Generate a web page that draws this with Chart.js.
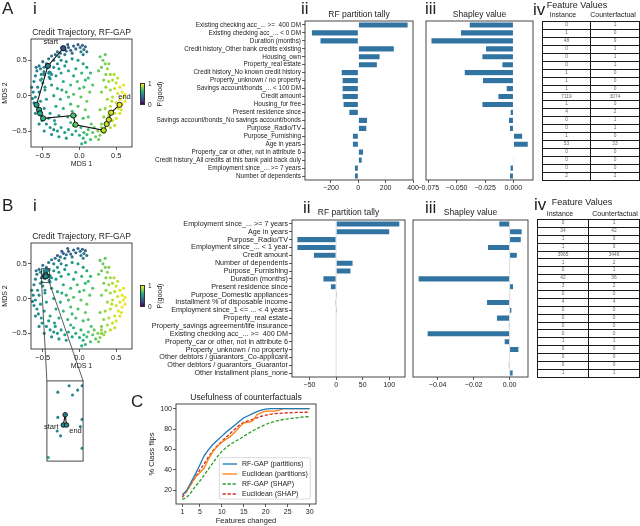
<!DOCTYPE html>
<html>
<head>
<meta charset="utf-8">
<script src="https://cdn.jsdelivr.net/npm/chart.js@4.4.1/dist/chart.umd.min.js"></script>
<style>
  html, body { margin: 0; padding: 0; background: #fff; }
  body { position: relative; width: 640px; height: 526px; overflow: hidden;
         font-family: 'Liberation Sans', Arial, Helvetica, sans-serif; color: #222; }
  canvas { position: absolute; }
  .t { position: absolute; white-space: nowrap; line-height: 1; }
  .panel { font-size: 17px; }
  .hdr { font-size: 9px; transform: translateX(-50%); }
  .sub { font-size: 7px; transform: translateX(-50%); }
  .cb { font-size: 6.5px; }
  .rot { font-size: 7px; transform: translate(-50%, -50%) rotate(-90deg); }
  .cbar { position: absolute; width: 5px; height: 22px; box-sizing: border-box; border: 0.6px solid #333;
          background: linear-gradient(to top, #440154, #414487, #2a788e, #22a884, #7ad151, #fde725); }
  table.fv { position: absolute; border-collapse: collapse; table-layout: fixed; }
  table.fv td { border: 1px solid #1a1a1a; padding: 0; text-align: center; font-size: 4.8px;
                line-height: 4.8px; color: #666; overflow: hidden; }
</style>
</head>
<body>
<script>
// ---------- data ----------
const featA = [
  'Existing checking acc_... >=  400 DM', 'Existing checking acc_... < 0 DM', 'Duration (months)',
  'Credit history_Other bank credits existing', 'Housing_own', 'Property_real estate',
  'Credit history_No known credit history', 'Property_unknown / no property', 'Savings account/bonds_... < 100 DM',
  'Credit amount', 'Housing_for free', 'Present residence since',
  'Savings account/bonds_No savings account/bonds', 'Purpose_Radio/TV', 'Purpose_Furnishing',
  'Age in years', 'Property_car or other, not in attribute 6', 'Credit history_All credits at this bank paid back duly',
  'Employment since_... >= 7 years', 'Number of dependents'
];
const tallyA = [365, -344, -281, 264, 160, 140, -126, -119, -119, -119, -112, -70, 68, 63, -44, -44, 39, 29, -29, -29];
const shapA = [-0.039, -0.0467, -0.0727, -0.0246, -0.0278, -0.0102, -0.0434, -0.0273, -0.0064, -0.0137,
               -0.0278, -0.0029, -0.0044, -0.0035, 0.0083, 0.0132, 0.0003, 0.0009, -0.003, -0.0035];
const instA = ['0', '1', '48', '0', '0', '0', '1', '1', '1', '7119', '1', '4', '0', '0', '1', '53', '0', '0', '0', '2'];
const cfA = ['1', '0', '9', '1', '1', '1', '0', '0', '0', '3074', '0', '2', '1', '1', '0', '33', '0', '0', '0', '2'];

const featB = [
  'Employment since_... >= 7 years', 'Age in years', 'Purpose_Radio/TV', 'Employment since_... < 1 year',
  'Credit amount', 'Number of dependents', 'Purpose_Furnishing', 'Duration (months)',
  'Present residence since', 'Purpose_Domestic appliances', 'Installment % of disposable income',
  'Employment since_1 <= ... < 4 years', 'Property_real estate', 'Property_savings agreement/life insurance',
  'Existing checking acc_... >=  400 DM', 'Property_car or other, not in attribute 6', 'Property_unknown / no property',
  'Other debtors / guarantors_Co-applicant', 'Other debtors / guarantors_Guarantor', 'Other installment plans_none'
];
const tallyB = [120, 101, -74, -74, -43, 32, 28, -25, -11, 2.5, -2, 2.5, 0, 0, 0, 0, 0, 0, 0, 0];
const shapB = [-0.0061, 0.007, 0.0065, -0.0124, 0.0043, 0, -0.0004, -0.0509, 0.0022, 0,
               -0.0129, 0.0013, -0.0074, -0.0007, -0.0459, -0.0031, 0.0052, 0, -0.0007, 0.002];
const instB = ['0', '34', '1', '1', '3965', '1', '0', '42', '3', '0', '4', '0', '0', '0', '0', '1', '0', '0', '0', '1'];
const cfB = ['1', '42', '0', '0', '3446', '2', '1', '36', '2', '0', '4', '0', '0', '0', '0', '1', '0', '0', '0', '1'];

const tickA2 = [-200, 0, 200, 400];
const tickA3 = [-0.075, -0.05, -0.025, 0];
const tickB2 = [-50, 0, 50, 100];
const tickB3 = [-0.04, -0.02, 0];
const tickMds = [-0.5, 0, 0.5];

// MDS embedding, [x, y, P(good)]
const mdsCloud = [
  [-0.42,0.52,0.40],[-0.38,0.56,0.38],[-0.33,0.58,0.35],[-0.30,0.62,0.32],[-0.26,0.60,0.36],
  [-0.22,0.65,0.30],[-0.18,0.63,0.34],[-0.15,0.68,0.30],[-0.12,0.64,0.33],[-0.08,0.70,0.28],
  [-0.05,0.66,0.32],[-0.02,0.72,0.30],[0.01,0.68,0.35],[0.04,0.71,0.32],[0.06,0.65,0.38],
  [0.08,0.69,0.34],[0.10,0.62,0.40],[-0.28,0.55,0.40],[-0.20,0.58,0.40],[-0.10,0.60,0.38],
  [0.02,0.62,0.40],[-0.35,0.50,0.43],[-0.16,0.72,0.30],[0.05,0.58,0.42],[-0.24,0.68,0.29],
  [-0.58,0.35,0.42],[-0.55,0.42,0.40],[-0.62,0.20,0.45],[-0.60,0.28,0.43],[-0.52,0.30,0.46],
  [-0.57,0.12,0.48],[-0.63,0.05,0.46],[-0.60,-0.02,0.50],[-0.55,0.05,0.48],[-0.50,0.18,0.50],
  [-0.62,-0.10,0.47],[-0.58,-0.15,0.50],[-0.53,-0.08,0.52],[-0.65,0.12,0.44],[-0.53,0.38,0.44],
  [-0.45,0.45,0.40],[-0.50,0.48,0.38],[-0.56,-0.22,0.48],[-0.60,-0.25,0.46],[-0.52,-0.28,0.52],
  [-0.47,0.08,0.52],[-0.45,-0.05,0.54],[-0.48,-0.18,0.53],[-0.40,0.24,0.50],[-0.53,0.22,0.47],
  [-0.64,-0.04,0.43],[-0.40,0.33,0.48],[-0.59,0.40,0.40],[-0.51,-0.35,0.50],[-0.47,0.12,0.51],
  [-0.35,0.40,0.52],[-0.30,0.45,0.50],[-0.25,0.50,0.48],[-0.18,0.48,0.52],[-0.10,0.52,0.50],
  [-0.02,0.50,0.55],[0.05,0.45,0.58],[0.10,0.40,0.60],[-0.32,0.28,0.55],[-0.25,0.32,0.58],
  [-0.15,0.35,0.60],[-0.05,0.38,0.62],[0.03,0.32,0.65],[0.12,0.25,0.68],[-0.38,0.15,0.55],
  [-0.30,0.10,0.60],[-0.22,0.20,0.62],[-0.12,0.15,0.68],[-0.03,0.20,0.70],[0.06,0.12,0.72],
  [0.14,0.05,0.75],[-0.35,0.00,0.58],[-0.26,-0.05,0.62],[-0.18,0.05,0.66],[-0.08,0.02,0.72],
  [0.02,-0.02,0.75],[0.10,-0.08,0.78],[-0.32,-0.15,0.60],[-0.22,-0.18,0.65],[-0.12,-0.12,0.70],
  [-0.02,-0.15,0.72],[0.08,-0.20,0.76],[-0.28,-0.28,0.60],[-0.16,-0.30,0.65],[-0.05,-0.28,0.68],
  [0.05,-0.32,0.70],[-0.40,-0.25,0.56],[-0.20,0.42,0.54],[-0.08,0.28,0.60],[0.00,0.10,0.70],
  [-0.15,-0.02,0.68],[-0.28,0.38,0.53],[-0.38,0.30,0.52],[0.15,0.32,0.65],[0.18,0.15,0.72],
  [-0.10,-0.22,0.68],[-0.34,-0.35,0.57],[0.12,-0.30,0.74],[-0.24,0.08,0.60],[0.08,0.22,0.66],
  [-0.45,-0.40,0.50],[-0.40,-0.45,0.52],[-0.35,-0.48,0.50],[-0.30,-0.50,0.54],[-0.25,-0.45,0.56],
  [-0.20,-0.52,0.55],[-0.15,-0.48,0.60],[-0.10,-0.55,0.58],[-0.05,-0.50,0.62],[0.00,-0.56,0.60],
  [-0.42,-0.32,0.54],[-0.38,-0.55,0.48],[-0.28,-0.58,0.50],[-0.18,-0.60,0.54],[-0.08,-0.42,0.64],
  [0.02,-0.45,0.66],[-0.55,-0.40,0.46],[-0.48,-0.50,0.48],[-0.33,-0.40,0.56],[-0.12,-0.38,0.65],
  [0.05,-0.60,0.65],[0.10,-0.55,0.70],[0.15,-0.62,0.70],[0.18,-0.52,0.75],[0.22,-0.58,0.76],
  [0.25,-0.50,0.80],[0.28,-0.56,0.80],[0.30,-0.45,0.84],[0.08,-0.66,0.65],[0.12,-0.48,0.72],
  [0.20,-0.45,0.76],[0.03,-0.68,0.62],[0.16,-0.40,0.74],[0.26,-0.62,0.78],[0.33,-0.52,0.85],
  [0.06,-0.52,0.68],
  [0.28,0.55,0.75],[0.32,0.50,0.77],[0.35,0.45,0.80],[0.30,0.40,0.77],[0.38,0.38,0.83],
  [0.42,0.30,0.85],[0.36,0.30,0.81],[0.45,0.22,0.87],[0.40,0.20,0.85],[0.50,0.18,0.91],
  [0.48,0.10,0.90],[0.55,0.12,0.95],[0.42,0.08,0.85],[0.52,0.03,0.93],[0.58,0.05,0.97],
  [0.45,-0.02,0.89],[0.55,-0.05,0.95],[0.60,-0.02,0.98],[0.38,-0.05,0.85],[0.50,-0.10,0.93],
  [0.58,-0.12,0.97],[0.42,-0.15,0.89],[0.35,-0.18,0.85],[0.53,-0.18,0.95],[0.48,-0.25,0.92],
  [0.40,-0.28,0.89],[0.55,-0.25,0.95],[0.33,-0.30,0.83],[0.45,-0.35,0.91],[0.38,-0.38,0.87],
  [0.50,-0.32,0.93],[0.30,-0.40,0.81],[0.42,-0.45,0.89],[0.35,-0.48,0.85],[0.60,0.15,0.96],
  [0.62,-0.08,0.98],[0.47,0.30,0.87],[0.40,0.45,0.81],[0.33,0.22,0.80],[0.30,0.05,0.81],
  [0.36,0.12,0.83],[0.57,-0.20,0.96],[0.52,0.25,0.90],[0.28,-0.20,0.79],[0.44,-0.08,0.90],
  [0.26,0.35,0.75],[0.35,0.58,0.75],[0.48,-0.42,0.90],[0.30,-0.50,0.81],[0.62,0.02,0.98],
  [-0.484,0.402,0.45],[-0.451,0.418,0.45],[-0.426,0.407,0.44],[-0.441,0.395,0.46],[-0.413,0.418,0.45],
  [-0.484,0.339,0.46],[-0.413,0.334,0.47],[-0.418,0.316,0.46],[-0.486,0.305,0.47],[-0.476,0.293,0.45],
  [-0.413,0.262,0.48],[-0.512,0.239,0.62]
];
const mdsX = [-0.66, 0.715];
const mdsY = [-0.725, 0.8];

const trajAx = [-0.22, -0.43, -0.585, -0.55, -0.536, -0.495, -0.085, -0.054, 0.33, 0.37, 0.40, 0.43, 0.545];
const trajAy = [0.67, 0.42, -0.13, -0.20, -0.25, -0.32, -0.28, -0.41, -0.49, -0.40, -0.34, -0.24, -0.13];
const trajAp = [0.25, 0.40, 0.55, 0.58, 0.60, 0.65, 0.72, 0.74, 0.90, 0.90, 0.92, 0.93, 0.97];
const trajBx = [-0.468, -0.4625, -0.4585];
const trajBy = [0.32, 0.3455, 0.32];
const trajBp = [0.45, 0.45, 0.47];
const zoomX = [-0.516, -0.41];
const zoomY = [0.23, 0.43];

const featuresChanged = [1,2,3,4,5,6,7,8,9,10,11,12,13,14,15,16,17,18,19,20,21,22,23,24,25,26,27,28,29,30];
const rfgapPart = [15,20,28,36,45,54,60,65,69,73,77,80.5,84,87.5,91,93,95,97,98.5,99.5,100,100,100,100,100,100,100,100,100,100];
const euclPart = [16,19,26,33,37,42,51,58,63,67,70,73,77,82,86,86.5,88,94,96,97.5,97.5,97.5,98.5,100,100,100,100,100,100,100];
const rfgapShap = [11,13,18,24,29,35,41,47,53,58,62,65,68,70,73,75.5,78,80.5,82.5,84.5,86,87.5,88.5,89.3,90,90.5,91,91.5,92,92];
const euclShap = [13,19,26,33,40,46,53,59,64,68,72,76,80,84,86.5,88,89.5,91,92.5,93.5,94.3,95,95.3,95.6,95.8,96,96.2,96.3,96.4,96.5];
const tickCx = [1, 5, 10, 15, 20, 25, 30];
const tickCy = [20, 40, 60, 80, 100];

// ---------- helpers ----------
Chart.defaults.font.family = "'Liberation Sans', Arial, Helvetica, sans-serif";
Chart.defaults.color = '#222';

const barBlue = '#3274a1';
const viridisStops = ['#440154','#482475','#414487','#355f8d','#2a788e','#21918c','#22a884','#44bf70','#7ad151','#bddf26','#fde725'];
const hexRgb = h => [1, 3, 5].map(i => parseInt(h.slice(i, i + 2), 16));
function viridis(t) {
  t = Math.max(0, Math.min(1, t)) * 10;
  const i = Math.min(9, Math.floor(t)), f = t - i;
  const a = hexRgb(viridisStops[i]), b = hexRgb(viridisStops[i + 1]);
  return 'rgb(' + a.map((v, k) => Math.round(v + (b[k] - v) * f)).join(',') + ')';
}
const fmt = d => v => (v < -1e-12 ? '\u2212' : '') + Math.abs(v).toFixed(d);
const fixTicks = arr => s => { s.ticks = arr.map(v => ({ value: v })); };
const tickGrid = { display: true, drawOnChartArea: false, drawTicks: true, tickLength: 3, color: '#333', lineWidth: 0.8 };

function addCanvas(id, l, t, w, h) {
  const c = document.createElement('canvas');
  c.id = id; c.width = w; c.height = h;
  c.style.left = l + 'px'; c.style.top = t + 'px';
  c.style.width = w + 'px'; c.style.height = h + 'px';
  document.body.appendChild(c);
  return c;
}

const framePlugin = {
  id: 'frame',
  beforeDatasetsDraw(chart, args, o) {
    if (!o.zero) return;
    const a = chart.chartArea, ctx = chart.ctx, x = chart.scales.x.getPixelForValue(0);
    ctx.save();
    ctx.strokeStyle = '#cfcfcf'; ctx.lineWidth = 0.7;
    ctx.beginPath(); ctx.moveTo(x, a.top); ctx.lineTo(x, a.bottom); ctx.stroke();
    ctx.restore();
  },
  afterDraw(chart, args, o) {
    const a = chart.chartArea, ctx = chart.ctx;
    ctx.save();
    ctx.strokeStyle = '#333'; ctx.lineWidth = 0.9;
    ctx.strokeRect(a.left, a.top, a.right - a.left, a.bottom - a.top);
    if (o.rect) {
      const sx = chart.scales.x, sy = chart.scales.y;
      const x0 = sx.getPixelForValue(o.rect[0]), x1 = sx.getPixelForValue(o.rect[1]);
      const y0 = sy.getPixelForValue(o.rect[3]), y1 = sy.getPixelForValue(o.rect[2]);
      ctx.lineWidth = 0.8;
      ctx.strokeRect(x0, y0, x1 - x0, y1 - y0);
    }
    if (o.tags) {
      const pts = chart.getDatasetMeta(0).data;
      ctx.fillStyle = '#222';
      ctx.font = "7.5px 'Liberation Sans', Arial, sans-serif";
      ctx.textAlign = 'center'; ctx.textBaseline = 'middle';
      o.tags.forEach(g => {
        const p = pts[g.i];
        ctx.fillText(g.text, p.x + g.dx, p.y + g.dy);
      });
    }
    ctx.restore();
  }
};

const legendPlugin = {
  id: 'innerLegend',
  afterDraw(chart) {
    const a = chart.chartArea, ctx = chart.ctx;
    const w = 91, h = 41.3, x = a.right - 5.7 - w, y = a.bottom - 5 - h;
    ctx.save();
    ctx.beginPath(); ctx.roundRect(x, y, w, h, 2);
    ctx.fillStyle = 'rgba(255,255,255,0.85)'; ctx.fill();
    ctx.strokeStyle = '#d0d0d0'; ctx.lineWidth = 0.8; ctx.stroke();
    ctx.font = "7px 'Liberation Sans', Arial, sans-serif";
    ctx.textBaseline = 'middle';
    chart.data.datasets.forEach((ds, i) => {
      const yy = y + 6.3 + i * 10;
      ctx.beginPath();
      ctx.setLineDash(ds.borderDash || []);
      ctx.strokeStyle = ds.borderColor; ctx.lineWidth = ds.borderWidth;
      ctx.moveTo(x + 3.3, yy); ctx.lineTo(x + 17.7, yy); ctx.stroke();
      ctx.setLineDash([]);
      ctx.fillStyle = '#222';
      ctx.fillText(ds.label, x + 22.7, yy);
    });
    ctx.restore();
  }
};

function makeBar(id, l, t, w, h, labels, values, range, ticks, digits, title, o) {
  const cv = addCanvas(id, l, t, w, h);
  return new Chart(cv, {
    type: 'bar',
    data: { labels: labels, datasets: [{ data: values, backgroundColor: barBlue, borderColor: 'rgba(255,255,255,0.85)',
            borderWidth: 0.6, barPercentage: 0.8, categoryPercentage: 1 }] },
    options: {
      indexAxis: 'y', responsive: false, animation: false, events: [],
      layout: { padding: { left: 0, top: 0, bottom: 0, right: 7 } },
      plugins: {
        legend: { display: false }, tooltip: { enabled: false },
        title: { display: true, fullSize: false, text: title, color: '#222', font: { size: 8.5, weight: 'normal' },
                 padding: { top: o.tTop, bottom: o.tBot } },
        frame: { zero: !!o.zero }
      },
      scales: {
        x: { type: 'linear', min: range[0], max: range[1], afterBuildTicks: fixTicks(ticks),
             afterFit: s => { s.height = 15; },
             ticks: { font: { size: 7 }, padding: 1, maxRotation: 0, callback: fmt(digits) },
             grid: tickGrid, border: { display: false } },
        y: { afterFit: s => { s.width = o.yWidth; },
             ticks: { display: o.showLabels, autoSkip: false, font: { size: o.labelSize || 6 }, padding: 1 },
             grid: Object.assign({}, tickGrid, { display: o.showLabels, offset: false }),
             border: { display: false } }
      }
    },
    plugins: [framePlugin]
  });
}

function makeScatter(id, l, t, w, h, tx, ty, tp, o) {
  const cv = addCanvas(id, l, t, w, h);
  const traj = tx.map((x, i) => ({ x: x, y: ty[i] }));
  const axisOn = o.axes;
  return new Chart(cv, {
    type: 'scatter',
    data: { datasets: [
      { data: traj, showLine: true, borderColor: '#111', borderWidth: 1.1, pointRadius: o.trajR,
        pointBackgroundColor: tp.map(viridis), pointBorderColor: '#111', pointBorderWidth: 0.9, clip: 4 },
      { data: mdsCloud.map(p => ({ x: p[0], y: p[1] })), pointRadius: 1.55, pointBorderWidth: 0,
        pointBackgroundColor: mdsCloud.map(p => viridis(p[2])), clip: o.clip }
    ] },
    options: {
      responsive: false, animation: false, events: [],
      layout: { padding: o.pad },
      plugins: {
        legend: { display: false }, tooltip: { enabled: false },
        title: { display: axisOn, fullSize: false, text: 'Credit Trajectory, RF-GAP', color: '#222',
                 font: { size: 8.5, weight: 'normal' }, padding: { top: o.tTop, bottom: o.tBot } },
        frame: { rect: o.rect, tags: o.tags }
      },
      scales: {
        x: { type: 'linear', display: axisOn, min: o.xr[0], max: o.xr[1], afterBuildTicks: fixTicks(tickMds),
             afterFit: s => { if (axisOn) s.height = 23; },
             ticks: { font: { size: 7.5 }, padding: 1, maxRotation: 0, callback: fmt(1) },
             title: { display: true, text: 'MDS 1', font: { size: 7 }, padding: { top: 0, bottom: 1.8 } },
             grid: tickGrid, border: { display: false } },
        y: { type: 'linear', display: axisOn, min: o.yr[0], max: o.yr[1], afterBuildTicks: fixTicks(tickMds),
             afterFit: s => { if (axisOn) s.width = 31; },
             ticks: { font: { size: 7.5 }, padding: 1, callback: fmt(1) },
             title: { display: true, text: 'MDS 2', font: { size: 7 }, padding: { top: 0.8, bottom: 0 } },
             grid: tickGrid, border: { display: false } }
      }
    },
    plugins: [framePlugin]
  });
}

// ---------- panel A ----------
makeScatter('scatA', 0, 25, 140, 145, trajAx, trajAy, trajAp, {
  axes: true, trajR: 2.6, clip: 2, pad: { left: 0, top: 0, bottom: 0, right: 8 }, tTop: 2.9, tBot: 0.9,
  xr: mdsX, yr: mdsY,
  tags: [{ text: 'start', i: 0, dx: -12.5, dy: -6 }, { text: 'end', i: trajAx.length - 1, dx: 5, dy: -8 }]
});
makeBar('barA2', 150, 0, 270, 195, featA, tallyA, [-390, 400], tickA2, 0, 'RF partition tally',
  { tTop: 9.9, tBot: 0.9, yWidth: 155, showLabels: true, labelSize: 6.4 });
makeBar('barA3', 400, 0, 140, 195, featA, shapA, [-0.077, 0.0173], tickA3, 3, 'Shapley value',
  { tTop: 9.9, tBot: 0.9, yWidth: 26, showLabels: false });

// ---------- panel B ----------
const scatB = makeScatter('scatB', 0, 229, 140, 143, trajBx, trajBy, trajBp, {
  axes: true, trajR: 2.6, clip: 2, pad: { left: 0, top: 0, bottom: 0, right: 8 }, tTop: 2.4, tBot: 1.4,
  xr: mdsX, yr: mdsY, rect: [zoomX[0], zoomX[1], zoomY[0], zoomY[1]]
});
const inset = makeScatter('inset', 42, 376, 46, 90, trajBx, trajBy, trajBp, {
  axes: false, trajR: 2.3, clip: 0, pad: 0.5, tTop: 0, tBot: 0, xr: zoomX, yr: zoomY,
  tags: [{ text: 'start', i: 0, dx: -12, dy: 2 }, { text: 'end', i: trajBx.length - 1, dx: 9, dy: 5.5 }]
});
makeBar('barB2', 140, 200, 272, 192, featB, tallyB, [-83, 129.5], tickB2, 0, 'RF partition tally',
  { tTop: 7.6, tBot: 2.2, yWidth: 152, showLabels: true, labelSize: 7.2, zero: true });
makeBar('barB3', 395, 200, 140, 192, featB, shapB, [-0.0537, 0.0102], tickB3, 2, 'Shapley value',
  { tTop: 7.9, tBot: 1.9, yWidth: 18, showLabels: false, zero: true });

// ---------- panel C ----------
const cCv = addCanvas('lineC', 140, 385, 185, 141);
const series = [
  { label: 'RF-GAP (partitions)', values: rfgapPart, color: '#1f77b4', dash: [] },
  { label: 'Euclidean (partitions)', values: euclPart, color: '#ff7f0e', dash: [] },
  { label: 'RF-GAP (SHAP)', values: rfgapShap, color: '#2ca02c', dash: [3.2, 1.8] },
  { label: 'Euclidean (SHAP)', values: euclShap, color: '#d62728', dash: [3.2, 1.8] }
];
new Chart(cCv, {
  type: 'line',
  data: { datasets: series.map(s => ({
    label: s.label, data: featuresChanged.map((x, i) => ({ x: x, y: s.values[i] })),
    borderColor: s.color, borderWidth: 1.3, borderDash: s.dash, pointRadius: 0, tension: 0, fill: false
  })) },
  options: {
    responsive: false, animation: false, events: [],
    layout: { padding: { left: 0, top: 0, bottom: 0, right: 9 } },
    plugins: {
      legend: { display: false }, tooltip: { enabled: false },
      title: { display: true, fullSize: false, text: 'Usefulness of counterfactuals', color: '#222',
               font: { size: 8.5, weight: 'normal' }, padding: { top: 7.6, bottom: 1.2 } }
    },
    scales: {
      x: { type: 'linear', min: -0.45, max: 31.45, afterBuildTicks: fixTicks(tickCx),
           afterFit: s => { s.height = 22; },
           ticks: { font: { size: 7 }, padding: 1, maxRotation: 0 },
           title: { display: true, text: 'Features changed', font: { size: 7.5 }, padding: { top: 0, bottom: 0.5 } },
           grid: tickGrid, border: { display: false } },
      y: { type: 'linear', min: 6.5, max: 104.5, afterBuildTicks: fixTicks(tickCy),
           afterFit: s => { s.width = 36; },
           ticks: { font: { size: 7 }, padding: 1 },
           title: { display: true, text: '% Class flips', font: { size: 7.5 }, padding: { top: 7.2, bottom: 0 } },
           grid: tickGrid, border: { display: false } }
    }
  },
  plugins: [framePlugin, legendPlugin]
});

// ---------- inset connectors ----------
const ov = addCanvas('overlay', 0, 0, 640, 526);
ov.style.pointerEvents = 'none';
(function () {
  const ctx = ov.getContext('2d');
  const sx = scatB.scales.x, sy = scatB.scales.y, ia = inset.chartArea;
  const bx0 = sx.getPixelForValue(zoomX[0]), bx1 = sx.getPixelForValue(zoomX[1]);
  const by = 229 + sy.getPixelForValue(zoomY[0]);
  ctx.strokeStyle = '#333'; ctx.lineWidth = 0.8;
  ctx.beginPath();
  ctx.moveTo(bx0, by); ctx.lineTo(42 + ia.left, 376 + ia.top);
  ctx.moveTo(bx1, by); ctx.lineTo(42 + ia.right, 376 + ia.top);
  ctx.stroke();
})();

// ---------- tables ----------
function buildTable(l, t, w1, w2, h, inst, cf) {
  const tb = document.createElement('table');
  tb.className = 'fv';
  tb.style.left = l + 'px'; tb.style.top = t + 'px';
  tb.style.width = (w1 + w2) + 'px'; tb.style.height = h + 'px';
  const cg = document.createElement('colgroup');
  [w1, w2].forEach(w => { const c = document.createElement('col'); c.style.width = w + 'px'; cg.appendChild(c); });
  tb.appendChild(cg);
  inst.forEach((v, i) => {
    const tr = tb.insertRow();
    tr.style.height = (h / inst.length) + 'px';
    tr.insertCell().textContent = v;
    tr.insertCell().textContent = cf[i];
  });
  document.body.appendChild(tb);
}
buildTable(542, 21, 48, 49, 159, instA, cfA);
buildTable(537, 219, 51, 51, 158, instB, cfB);

// ---------- text & colour bars ----------
const texts = [
  ['panel', 'A', 2, 0], ['panel', 'i', 33, 0], ['panel', 'ii', 301, 0], ['panel', 'iii', 425, 0], ['panel', 'iv', 533, 1],
  ['panel', 'B', 2, 197], ['panel', 'i', 33, 197], ['panel', 'ii', 303, 199], ['panel', 'iii', 425, 199], ['panel', 'iv', 534, 196],
  ['panel', 'C', 131, 393],
  ['hdr', 'Feature Values', 577, 0.6], ['sub', 'Instance', 563, 11.4], ['sub', 'Counterfactual', 613, 11.4],
  ['hdr', 'Feature Values', 582, 198.3], ['sub', 'Instance', 560, 210], ['sub', 'Counterfactual', 615, 210],
  ['cb', '1', 148, 81], ['cb', '0', 148, 102], ['cb', '1', 148, 283], ['cb', '0', 148, 304]
];
texts.forEach(([cls, s, x, y]) => {
  const d = document.createElement('div');
  d.className = 't ' + cls; d.textContent = s;
  d.style.left = x + 'px'; d.style.top = y + 'px';
  document.body.appendChild(d);
});
[[159, 94], [159, 296]].forEach(([x, y]) => {
  const d = document.createElement('div');
  d.className = 't rot'; d.textContent = 'P(good)';
  d.style.left = x + 'px'; d.style.top = y + 'px';
  document.body.appendChild(d);
});
[83, 285].forEach(y => {
  const d = document.createElement('div');
  d.className = 'cbar'; d.style.left = '140px'; d.style.top = y + 'px';
  document.body.appendChild(d);
});
</script>
</body>
</html>
